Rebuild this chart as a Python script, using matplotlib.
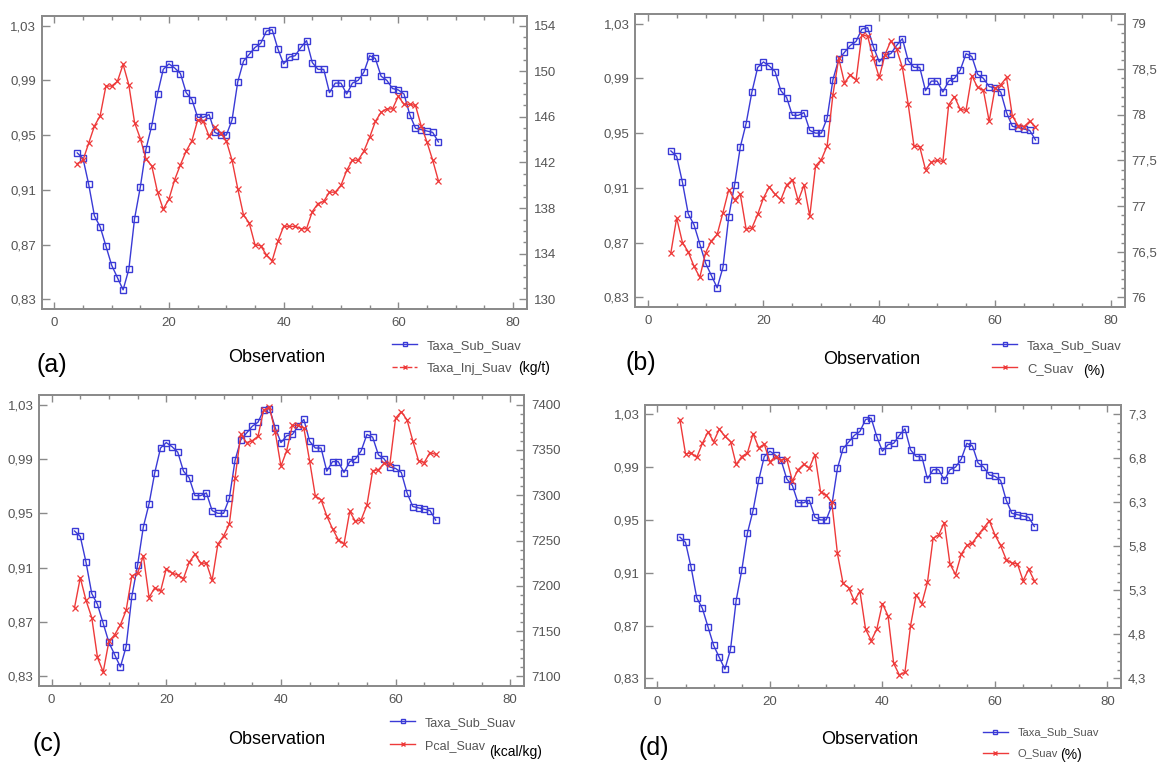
import matplotlib
matplotlib.use("Agg")
import matplotlib.pyplot as plt
from matplotlib.lines import Line2D
from matplotlib.ticker import FixedLocator, MultipleLocator, FuncFormatter

plt.rcParams['font.family'] = ['Liberation Sans', 'DejaVu Sans']

# observation index
obs = list(range(4, 68))

# Taxa_Sub_Suav (same in all four panels)
taxa_sub = [0.937, 0.933, 0.914, 0.891, 0.883, 0.869, 0.855, 0.846, 0.837, 0.852,
            0.889, 0.912, 0.940, 0.957, 0.980, 0.998, 1.002, 0.999, 0.995, 0.981,
            0.976, 0.963, 0.963, 0.965, 0.952, 0.950, 0.950, 0.961, 0.989, 1.004,
            1.009, 1.014, 1.017, 1.026, 1.027, 1.013, 1.002, 1.007, 1.008, 1.014,
            1.019, 1.003, 0.998, 0.998, 0.981, 0.988, 0.988, 0.980, 0.988, 0.990,
            0.996, 1.008, 1.006, 0.993, 0.990, 0.984, 0.983, 0.980, 0.965, 0.955,
            0.954, 0.953, 0.952, 0.945]

# (a) Taxa_Inj_Suav (kg/t)
taxa_inj = [141.9, 142.2, 143.7, 145.2, 146.1, 148.7, 148.7, 149.1, 150.6, 148.8,
            145.5, 144.1, 142.3, 141.7, 139.4, 137.9, 138.8, 140.5, 141.8, 143.0,
            143.9, 145.7, 145.6, 144.3, 145.1, 144.6, 143.9, 142.2, 139.7, 137.4,
            136.7, 134.8, 134.7, 133.9, 133.4, 135.1, 136.4, 136.4, 136.4, 136.2,
            136.2, 137.7, 138.4, 138.6, 139.4, 139.4, 140.0, 141.3, 142.2, 142.2,
            143.0, 144.2, 145.6, 146.4, 146.7, 146.7, 147.8, 147.1, 147.1, 147.0,
            145.2, 143.8, 142.2, 140.4]

# (b) C_Suav (%)
c_suav = [76.49, 76.87, 76.60, 76.50, 76.34, 76.22, 76.49, 76.62, 76.69, 76.93,
          77.18, 77.07, 77.13, 76.75, 76.76, 76.91, 77.09, 77.21, 77.13, 77.07,
          77.23, 77.29, 77.06, 77.23, 76.89, 77.44, 77.51, 77.66, 78.22, 78.62,
          78.35, 78.44, 78.38, 78.88, 78.86, 78.62, 78.41, 78.66, 78.81, 78.72,
          78.52, 78.12, 77.66, 77.65, 77.40, 77.48, 77.50, 77.49, 78.11, 78.20,
          78.06, 78.05, 78.43, 78.30, 78.27, 77.93, 78.29, 78.33, 78.41, 77.99,
          77.88, 77.87, 77.93, 77.87]

# (c) Pcal_Suav (kcal/kg)
pcal_suav = [7176, 7209, 7184, 7165, 7121, 7105, 7139, 7146, 7157, 7173,
             7211, 7214, 7233, 7187, 7198, 7194, 7219, 7214, 7212, 7208,
             7226, 7235, 7225, 7225, 7206, 7246, 7255, 7268, 7319, 7367,
             7358, 7360, 7365, 7394, 7397, 7370, 7332, 7349, 7377, 7377,
             7374, 7338, 7299, 7295, 7277, 7263, 7251, 7246, 7282, 7271,
             7273, 7289, 7327, 7328, 7335, 7334, 7385, 7392, 7383, 7360,
             7338, 7336, 7347, 7345]

# (d) O_Suav (%)
o_suav = [7.24, 6.85, 6.86, 6.81, 6.97, 7.10, 6.99, 7.13, 7.05, 6.99,
          6.73, 6.82, 6.86, 7.08, 6.92, 6.96, 6.76, 6.82, 6.78, 6.79,
          6.54, 6.67, 6.73, 6.69, 6.84, 6.42, 6.38, 6.30, 5.72, 5.38,
          5.33, 5.18, 5.29, 4.86, 4.73, 4.86, 5.15, 5.01, 4.47, 4.34,
          4.37, 4.90, 5.25, 5.15, 5.39, 5.89, 5.93, 6.07, 5.60, 5.48,
          5.71, 5.81, 5.84, 5.93, 6.01, 6.09, 5.93, 5.81, 5.65, 5.61,
          5.60, 5.41, 5.54, 5.41]

# left axis ticks and right axis tick values per panel
left_ticks = [0.83, 0.87, 0.91, 0.95, 0.99, 1.03]
ticks_a = [130, 134, 138, 142, 146, 150, 154]
ticks_b = [76, 76.5, 77, 77.5, 78, 78.5, 79]
ticks_c = [7100, 7150, 7200, 7250, 7300, 7350, 7400]
ticks_d = [4.3, 4.8, 5.3, 5.8, 6.3, 6.8, 7.3]

BLUE = '#3a3ad6'
RED = '#ee3a3a'
GRAY = '#8a8a8a'
TXT = '#555555'
W, H = 1160, 762

ylim = (0.823, 1.037)


def fx(px):
    return px / W


def fy(py):
    return 1 - py / H


def comma(fmt):
    return FuncFormatter(lambda v, p: (fmt % v).replace('.', ','))


panels = [
    dict(rect=(41.7, 16, 526.7, 309), red=taxa_inj, ticks=ticks_a, nminor=4,
         fmt='%g', letter='(a)', name='Taxa_Inj_Suav', unit='(kg/t)', dashed=True,
         leg=(392, 345, 9.4), obs=(277, 358), let=(37, 365), unit_xy=(518, 368)),
    dict(rect=(635, 14, 1124.6, 307), red=c_suav, ticks=ticks_b, nminor=5,
         fmt='%g', letter='(b)', name='C_Suav', unit='(%)', dashed=False,
         leg=(992, 345, 9.4), obs=(872, 359), let=(625, 363), unit_xy=(1083, 371)),
    dict(rect=(39, 395, 524, 686), red=pcal_suav, ticks=ticks_c, nminor=5,
         fmt='%g', letter='(c)', name='Pcal_Suav', unit='(kcal/kg)', dashed=False,
         leg=(390, 722, 9.0), obs=(277, 739), let=(32, 744), unit_xy=(489, 752)),
    dict(rect=(645, 405, 1121, 687.7), red=o_suav, ticks=ticks_d, nminor=5,
         fmt='%.1f', letter='(d)', name='O_Suav', unit='(%)', dashed=False,
         leg=(983, 732, 8.0), obs=(870, 740), let=(639, 748), unit_xy=(1060, 755)),
]

fig = plt.figure(figsize=(11.6, 7.62), dpi=100)

for p in panels:
    x0, y0, x1, y1 = p['rect']
    ax = fig.add_axes([fx(x0), fy(y1), (x1 - x0) / W, (y1 - y0) / H])
    ax2 = ax.twinx()

    ax.plot(obs, taxa_sub, color=BLUE, lw=1.0, marker='s', ms=4.5,
            mfc='none', mec=BLUE, mew=1.0)
    ax2.plot(obs, p['red'], color=RED, lw=1.0, marker='x', ms=4, mew=0.9)

    ax.set_xlim(-2.2, 82.4)
    ax.set_ylim(*ylim)
    # right axis aligned so its first/last tick sit on 0,83 / 1,03
    rt = p['ticks']
    k = (rt[-1] - rt[0]) / (left_ticks[-1] - left_ticks[0])
    ax2.set_ylim(rt[0] + (ylim[0] - left_ticks[0]) * k,
                 rt[0] + (ylim[1] - left_ticks[0]) * k)

    ax.xaxis.set_major_locator(MultipleLocator(20))
    ax.xaxis.set_minor_locator(MultipleLocator(5))
    ax.set_yticks(left_ticks)
    ax.yaxis.set_major_formatter(comma('%.2f'))
    ax2.yaxis.set_major_locator(FixedLocator(rt))
    step = (rt[1] - rt[0]) / p['nminor']
    minor = [rt[0] + i * step for i in range((len(rt) - 1) * p['nminor'] + 1)]
    ax2.yaxis.set_minor_locator(FixedLocator(minor))
    ax2.yaxis.set_major_formatter(comma(p['fmt']))

    ax.tick_params(axis='x', which='both', direction='in', top=True, bottom=True,
                   color=GRAY, labelcolor=TXT, labelsize=9.5, pad=6)
    ax.tick_params(axis='x', which='major', length=5, width=1)
    ax.tick_params(axis='x', which='minor', length=3, width=1)
    ax.tick_params(axis='y', which='major', direction='in', length=6, width=1,
                   color=GRAY, labelcolor=TXT, labelsize=9.5, pad=4)
    ax2.tick_params(axis='y', which='major', direction='in', length=6, width=1,
                    color=GRAY, labelcolor=TXT, labelsize=9.5, pad=5)
    ax2.tick_params(axis='y', which='minor', direction='in', length=3, width=1,
                    color=GRAY)

    for a in (ax, ax2):
        for s in a.spines.values():
            s.set_color(GRAY)
            s.set_linewidth(1.3)

    # legend below the plot, right side
    lx, ly, fs = p['leg']
    fpx = fs * 100 / 72
    h1 = Line2D([], [], color=BLUE, lw=1.0, marker='s', ms=3.5, mfc='none', mew=1.0)
    h2 = Line2D([], [], color=RED, lw=1.0, marker='x', ms=3.5,
                ls='--' if p['dashed'] else '-')
    fig.legend([h1, h2], ['Taxa_Sub_Suav', p['name']], loc='upper left',
               bbox_to_anchor=(fx(lx), fy(ly - 0.5 * fpx + 1)),
               frameon=False, borderpad=0, borderaxespad=0,
               handlelength=25 / fpx, handletextpad=10 / fpx,
               labelspacing=11 / fpx, fontsize=fs, labelcolor=TXT)
    ux, uy = p['unit_xy']
    fig.text(fx(ux), fy(uy), p['unit'], fontsize=10, color='black',
             va='center', ha='left')

    ox, oy = p['obs']
    fig.text(fx(ox), fy(oy), 'Observation', fontsize=13, ha='center',
             va='center', color='black')
    lx2, ly2 = p['let']
    fig.text(fx(lx2), fy(ly2), p['letter'], fontsize=18, ha='left',
             va='center', color='black')

fig.savefig('out.png', dpi=100)
